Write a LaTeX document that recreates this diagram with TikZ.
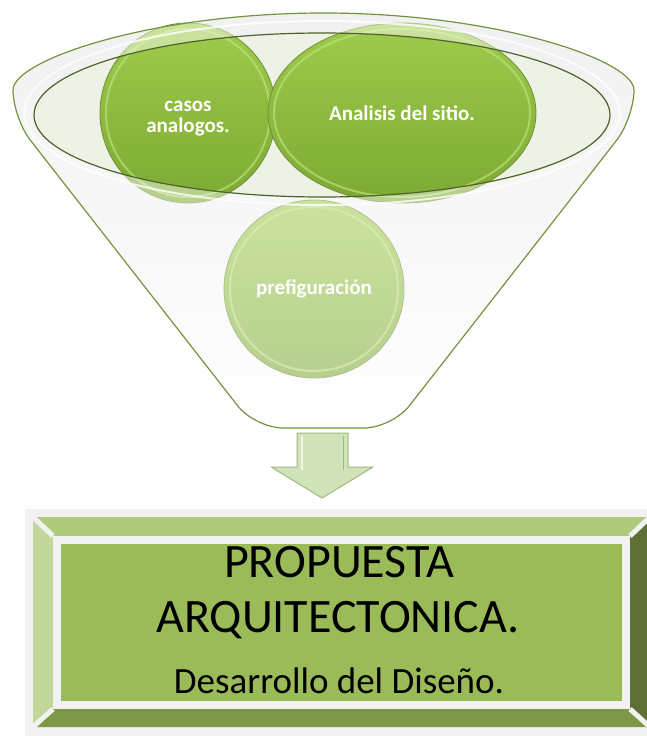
\documentclass[tikz,border=0pt]{standalone}
\usepackage{fontspec}
\setmainfont{Carlito}
\usetikzlibrary{shapes.geometric}
\definecolor{rimline}{HTML}{76923C}
\definecolor{innerline}{HTML}{4F6228}
\definecolor{innerfill}{HTML}{EEF2E6}
\definecolor{bubbletop}{HTML}{9FCC4C}
\definecolor{bubblebottom}{HTML}{7CA932}
\definecolor{bubbleline}{HTML}{6F8F33}
\definecolor{bubblerim}{HTML}{BCE07A}
\definecolor{arrowfill}{HTML}{D1E3B9}
\definecolor{arrowline}{HTML}{9FB97F}
\definecolor{framegray}{HTML}{F2F2F2}
\definecolor{beveltop}{HTML}{AECA7A}
\definecolor{bevelleft}{HTML}{C4D79B}
\definecolor{bevelbottom}{HTML}{7E9849}
\definecolor{bevelright}{HTML}{5E7036}
\definecolor{facegreen}{HTML}{9BBB59}
\newcommand{\funnelpath}{(13,118) arc[start angle=180, end angle=360, x radius=310.5, y radius=105] -- (392,428) -- (255,428) -- cycle}
\begin{document}
\begin{tikzpicture}[x=1pt, y=-1pt,
    bubble/.style={ellipse, draw=bubbleline, line width=0.8pt, top color=bubbletop, bottom color=bubblebottom,
        text=white, align=center, inner sep=0pt},
    bubblefont/.style={font=\fontsize{21}{21}\selectfont\bfseries},
    bubbletext/.style={text=white, align=center, inner sep=0pt, font=\fontsize{21}{21}\selectfont\bfseries},
    shine/.style={draw=bubblerim, line width=2pt, opacity=0.7},
    seam/.style={draw=framegray, line width=5pt},
    face/.style={rectangle, fill=facegreen, draw=framegray, line width=8pt, inner sep=0pt},
    bigtext/.style={font=\fontsize{48}{48}\selectfont, text=black, inner sep=0pt},
    smalltext/.style={font=\fontsize{37}{37}\selectfont, text=black, inner sep=0pt}]
    \useasboundingbox (0,0) rectangle (647,736);

    % Funnel
    \path[rounded corners=28pt, top color=black!10, bottom color=white] \funnelpath;
    \fill[innerfill] (322,115) ellipse [x radius=288, y radius=82];

    % Bubbles
    \node[bubble, bubblefont, minimum width=180pt, minimum height=178pt] (prefig) at (314,289) {prefiguración};
    \draw[shine] (prefig.center) ellipse [x radius=84, y radius=82];
    \node[bubble, minimum width=176pt, minimum height=180pt,
        label={[bubbletext, yshift=-6pt]center:casos\\analogos.}] (casos) at (188,113) {};
    \draw[shine] (casos.center) ellipse [x radius=82, y radius=84];
    \node[bubble, bubblefont, minimum width=268pt, minimum height=180pt] (analisis) at (402,113) {Analisis del sitio.};
    \draw[shine] (analisis.center) ellipse [x radius=128, y radius=84];

    % Funnel rim over the bubbles
    \fill[white, opacity=0.45, even odd rule, rounded corners=28pt] \funnelpath
        [sharp corners] (322,115) ellipse [x radius=288, y radius=82];
    \draw[rimline, line width=1.2pt, rounded corners=28pt] \funnelpath;
    \draw[white, line width=2pt, opacity=0.8] (322,113) ellipse [x radius=298, y radius=92];
    \draw[innerline, line width=1.2pt] (322,115) ellipse [x radius=288, y radius=82];

    % Arrow
    \filldraw[fill=arrowfill, draw=arrowline, line width=1pt, line join=round]
        (297,433) -- (348,433) -- (348,467) -- (373,467) -- (322,498) -- (271,467) -- (297,467) -- cycle;
    \draw[white, line width=1.5pt, opacity=0.7] (302,436) -- (302,470);
    \draw[arrowline, line width=1pt] (343,436) -- (343,470);

    % Result box
    \fill[framegray] (25,509) rectangle (647,736);
    \fill[beveltop] (33,517) -- (650,517) -- (630,536) -- (53,536) -- cycle;
    \fill[bevelleft] (33,517) -- (53,536) -- (53,709) -- (33,727) -- cycle;
    \fill[bevelbottom] (33,727) -- (53,709) -- (630,709) -- (650,727) -- cycle;
    \fill[bevelright] (650,517) -- (630,536) -- (630,709) -- (650,727) -- cycle;
    \draw[seam] (33,517) -- (53,536) (650,517) -- (630,536) (33,727) -- (53,709) (650,727) -- (630,709);
    \node[face, minimum width=569pt, minimum height=165pt] (propuesta) at (341.5,622.5) {};
    \node[bigtext, anchor=base] (titulo1) at (339,577) {PROPUESTA};
    \node[bigtext, anchor=base] (titulo2) at (338,632) {ARQUITECTONICA.};
    \node[smalltext, anchor=base] (desarrollo) at (339,693) {Desarrollo del Diseño.};
\end{tikzpicture}
\end{document}
